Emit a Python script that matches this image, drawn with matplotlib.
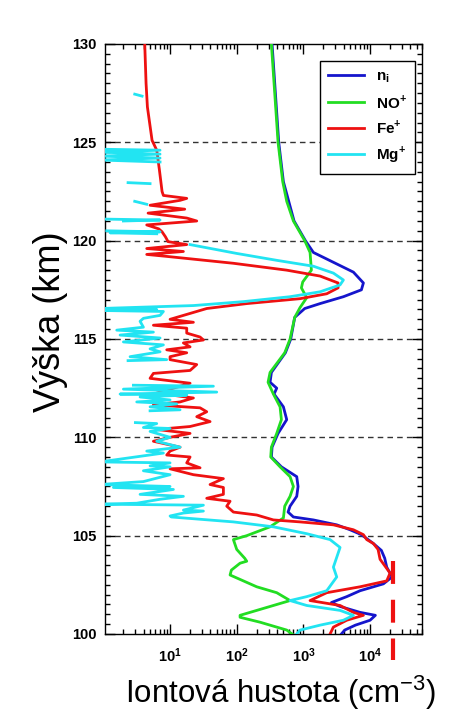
import numpy as np
import matplotlib
matplotlib.use("Agg")
import matplotlib.pyplot as plt
from matplotlib.ticker import LogLocator, MultipleLocator, NullFormatter, FixedLocator

plt.rcParams['font.family'] = ['Liberation Sans', 'DejaVu Sans']
plt.rcParams['mathtext.fontset'] = 'custom'
plt.rcParams['mathtext.rm'] = 'Liberation Sans'
plt.rcParams['mathtext.bf'] = 'Liberation Sans:bold'

# profily: vyska (km) a log10 hustoty (cm^-3)
ni_alt = [130, 125, 123, 121, 120, 119.4, 118.9, 118.4, 117.85, 117.5, 117.15, 116.8,
          116.55, 116.1, 115.0, 114.3, 113.3, 112.8, 112.5, 112.2, 111.55, 110.9, 110.2,
          109.5, 109.0, 108.5, 108.0, 107.5, 107.0, 106.5, 106.2, 105.95, 105.8, 105.55,
          105.3, 105.05, 104.6, 104.25, 103.85, 103.4, 102.9, 102.55, 102.2, 101.9, 101.6,
          101.4, 101.1, 100.95, 100.7, 100.45, 100.2, 100.0]
ni_log = [2.53, 2.63, 2.70, 2.86, 3.03, 3.15, 3.45, 3.75, 3.90, 3.87, 3.60, 3.25,
          3.02, 2.87, 2.81, 2.73, 2.52, 2.50, 2.60, 2.56, 2.70, 2.75, 2.62,
          2.53, 2.52, 2.67, 2.90, 2.92, 2.90, 2.80, 2.77, 2.85, 3.15, 3.50,
          3.70, 3.87, 4.05, 4.17, 4.22, 4.25, 4.33, 4.20, 3.85, 3.65, 3.42,
          3.55, 3.85, 4.08, 4.00, 3.78, 3.62, 3.57]

no_alt = [130, 127.5, 125, 123, 122, 121, 120, 119.4, 118.5, 117.9, 117.6, 117.1, 116.6,
          116.1, 115.0, 114.3, 113.3, 112.8, 112.2, 111.55, 110.9, 110.2, 109.5, 109.0,
          108.5, 108.0, 107.5, 107.0, 106.5, 105.9, 105.45, 105.0, 104.8, 104.3, 103.85,
          103.7, 103.6, 103.25, 103.0, 102.4, 102.1, 101.7, 101.2, 100.95, 100.85, 100.6,
          100.2, 100.0]
no_log = [2.52, 2.57, 2.62, 2.69, 2.75, 2.85, 3.02, 3.10, 3.12, 2.99, 2.97, 3.05, 2.95,
          2.87, 2.80, 2.72, 2.50, 2.47, 2.55, 2.65, 2.67, 2.60, 2.52, 2.51,
          2.65, 2.80, 2.85, 2.80, 2.72, 2.70, 2.50, 2.15, 1.95, 2.00, 2.12,
          2.15, 2.05, 1.92, 1.90, 2.30, 2.60, 2.80, 2.30, 2.05, 2.05, 2.35,
          2.75, 2.83]

fe_alt = [130.0, 128.0, 126.8, 125.1, 124.6, 123.6, 122.5, 122.3, 122.15, 122.05, 121.8,
          121.6, 121.4, 121.15, 121.0, 120.8, 120.6, 120.45, 120.2, 119.95, 119.8, 119.6,
          119.45, 119.3, 119.2, 118.85, 118.5, 118.2, 117.85, 117.6, 117.3, 117.05, 116.8,
          116.55, 116.3, 116.15, 116.0, 115.85, 115.7, 115.55, 115.3, 115.1, 114.95, 114.8,
          114.6, 114.45, 114.3, 114.1, 113.95, 113.7, 113.4, 113.25, 113.0, 112.75, 112.6,
          112.25, 112.0, 111.8, 111.65, 111.5, 111.3, 111.05, 110.8, 110.55, 110.4, 110.2,
          110.0, 109.8, 109.5, 109.3, 109.1, 109.0, 108.7, 108.45, 108.4, 108.1, 107.9,
          107.6, 107.45, 107.1, 106.9, 106.75, 106.5, 106.2, 106.05, 105.8, 105.7, 105.55,
          105.3, 105.05, 104.8, 104.6, 104.3, 103.8, 103.1, 102.7, 102.4, 102.1, 101.7,
          101.45, 101.1, 100.95, 100.7, 100.35, 100.0]
fe_log = [0.62, 0.64, 0.66, 0.73, 0.80, 0.84, 0.88, 0.90, 1.25, 1.15, 0.70,
          1.22, 0.67, 1.25, 1.40, 0.65, 0.83, 0.88, 0.93, 0.97, 1.25, 0.65,
          1.20, 0.65, 0.95, 1.95, 2.75, 3.25, 3.52, 3.52, 3.35, 2.95, 2.15,
          1.55, 1.30, 1.15, 1.00, 1.35, 0.75, 1.25, 1.25, 1.45, 1.50, 1.20,
          1.30, 0.95, 1.25, 1.00, 1.00, 1.40, 1.30, 0.75, 0.70, 1.30, 1.15,
          0.80, 1.35, 1.15, 0.75, 1.45, 1.55, 1.40, 1.60, 1.30, 0.80, 1.30,
          1.00, 0.75, 1.15, 1.00, 0.95, 1.30, 1.25, 1.45, 1.00, 1.35, 1.80,
          1.60, 1.80, 1.80, 1.55, 1.90, 1.85, 1.95, 2.30, 2.55, 2.95, 3.45,
          3.75, 3.90, 3.95, 4.05, 4.12, 4.15, 4.30, 4.25, 3.85, 3.35, 3.10,
          3.55, 3.75, 3.90, 3.65, 3.45, 3.40]

nan = np.nan
mg_alt = [127.45, 127.35, nan, 124.65, 124.6, 124.5, 124.4, 124.3, 124.2, 124.1, 124.0, nan,
          122.95, 122.9, nan, 122.0, 121.85, nan, 121.1, 121.05, 121.0, nan, 120.5, 120.45,
          120.4, 120.35, nan, 119.8, 119.35, 119.0, 118.7, 118.35, 118.0, 117.75, 117.4,
          117.15, 116.9, 116.7, 116.55, 116.5, 116.45, 116.4, 116.2, 116.05, 115.9, 115.6,
          115.45, 115.35, 115.2, 115.05, 114.85, 114.7, 114.5, 114.35, 114.1, 113.95, 113.9, nan,
          112.65, 112.6, 112.45, 112.3, 112.2, 112.15, 112.05, 111.9, 111.8, 111.7, 111.55,
          111.4, 111.35, nan, 110.75, 110.7, 110.5, 110.45, 110.3, 110.0, 109.8, 109.5, 109.3,
          109.2, 108.75, 108.7, 108.55, 108.5, 108.3, 108.1, 107.75, 107.6, 107.5, 107.45,
          107.35, 107.1, 107.0, 106.85, 106.65, 106.6, 106.55, 106.3, 106.25, 106.15, 106.0,
          105.95, 105.7, 105.45, 105.1, 104.8, 104.4, 103.9, 103.4, 102.9, 102.2, 101.9,
          101.7, 101.45, 101.2, 100.95, 100.7, 100.45, 100.2, 100.0]
mg_log = [0.47, 0.58, nan, -0.05, 0.85, -0.05, 0.85, -0.05, 0.85, -0.05, 0.85, nan,
          0.37, 0.70, nan, 0.47, 0.65, nan, -0.05, 0.85, 0.30, nan, 0.05, 0.85,
          0.10, 0.80, nan, 1.30, 2.00, 2.60, 3.15, 3.45, 3.60, 3.55, 3.25,
          2.80, 2.10, 1.35, -0.05, 0.80, -0.05, 0.90, 0.85, 0.60, 0.55, 0.60,
          0.20, 0.75, 0.25, 0.85, 0.30, 0.90, 0.70, 0.85, 0.40, 0.95, 0.37, nan,
          0.45, 1.65, 0.30, 1.70, 0.25, 1.25, 0.55, 1.00, 0.50, 1.10, 0.70,
          1.15, 0.70, nan, 0.48, 0.80, 0.60, 1.00, 0.70, 1.00, 0.80, 1.15, 0.65,
          0.90, -0.05, 1.00, 0.70, 1.00, 0.60, 1.00, 0.60, -0.05, 1.00, 0.15,
          1.05, 0.55, 1.20, 0.85, 0.50, -0.05, 1.50, 1.20, 1.50, 1.20, 1.00,
          1.02, 1.95, 2.55, 3.05, 3.40, 3.55, 3.50, 3.45, 3.50, 3.35, 3.05,
          2.80, 3.05, 3.55, 3.75, 3.60, 3.25, 2.95, 2.90]

# cervena svisla carkovana znacka
mark_x = 2.2e4
mark_alt = [103.7, 98.7]

grid_alts = [105, 110, 115, 120, 125]

fig = plt.figure(figsize=(4.49, 7.13), dpi=100)
ax = fig.add_axes([0.234, 0.1108, 0.706, 0.8275])

for a in grid_alts:
    ax.axhline(a, color='#333333', lw=1.0, ls=(0, (4, 3)), zorder=1)

lw = 2.0
ax.plot(10 ** np.array(ni_log), ni_alt, color='#1515cc', lw=lw, label='n$_\\mathbf{i}$', zorder=3)
ax.plot(10 ** np.array(no_log), no_alt, color='#22dd22', lw=lw, label='NO$^\\mathbf{+}$', zorder=4)
ax.plot(10 ** np.array(fe_log), fe_alt, color='#ee1111', lw=lw, label='Fe$^\\mathbf{+}$', zorder=5)
ax.plot(10 ** np.array(mg_log), mg_alt, color='#22e4f2', lw=lw, label='Mg$^\\mathbf{+}$', zorder=6)

ax.plot([mark_x, mark_x], mark_alt, color='#ee1111', lw=3.0, dashes=(5.5, 3.8),
        solid_capstyle='butt', dash_capstyle='butt', clip_on=False, zorder=7)

ax.set_xscale('log')
ax.set_xlim(10 ** 0.025, 10 ** 4.78)
ax.set_ylim(100, 130)

ax.xaxis.set_major_locator(FixedLocator([10, 100, 1000, 10000]))
ax.xaxis.set_minor_locator(LogLocator(base=10, subs=np.arange(2, 10), numticks=20))
ax.xaxis.set_minor_formatter(NullFormatter())
ax.set_xticklabels([r'$\mathbf{10^{1}}$', r'$\mathbf{10^{2}}$', r'$\mathbf{10^{3}}$', r'$\mathbf{10^{4}}$'])
ax.yaxis.set_major_locator(MultipleLocator(5))
ax.yaxis.set_minor_locator(MultipleLocator(0.5))

ax.tick_params(which='both', direction='in', top=True, right=True, width=1.0, colors='black')
ax.tick_params(which='major', length=7, labelsize=10.5)
ax.tick_params(axis='x', which='major', pad=9)
ax.tick_params(axis='y', which='major', pad=6)
ax.tick_params(which='minor', length=3.5)
for lab in ax.get_yticklabels():
    lab.set_fontweight('bold')
for sp in ax.spines.values():
    sp.set_linewidth(1.0)

ax.set_xlabel('Iontová hustota (cm$^{-3}$)', fontsize=22.5)
ax.xaxis.set_label_coords(0.552, -0.068)
ax.set_ylabel('Výška (km)', fontsize=26)
ax.yaxis.set_label_coords(-0.117, 0.529)

leg = ax.legend(loc='upper right', bbox_to_anchor=(0.978, 0.971), borderaxespad=0,
                frameon=True, fancybox=False, edgecolor='black', framealpha=1,
                handlelength=2.3, handletextpad=0.8, labelspacing=0.5,
                prop={'weight': 'bold', 'size': 11}, borderpad=0.55)
leg.get_frame().set_linewidth(1.0)
leg.set_zorder(10)

fig.savefig('out.png', dpi=100)
